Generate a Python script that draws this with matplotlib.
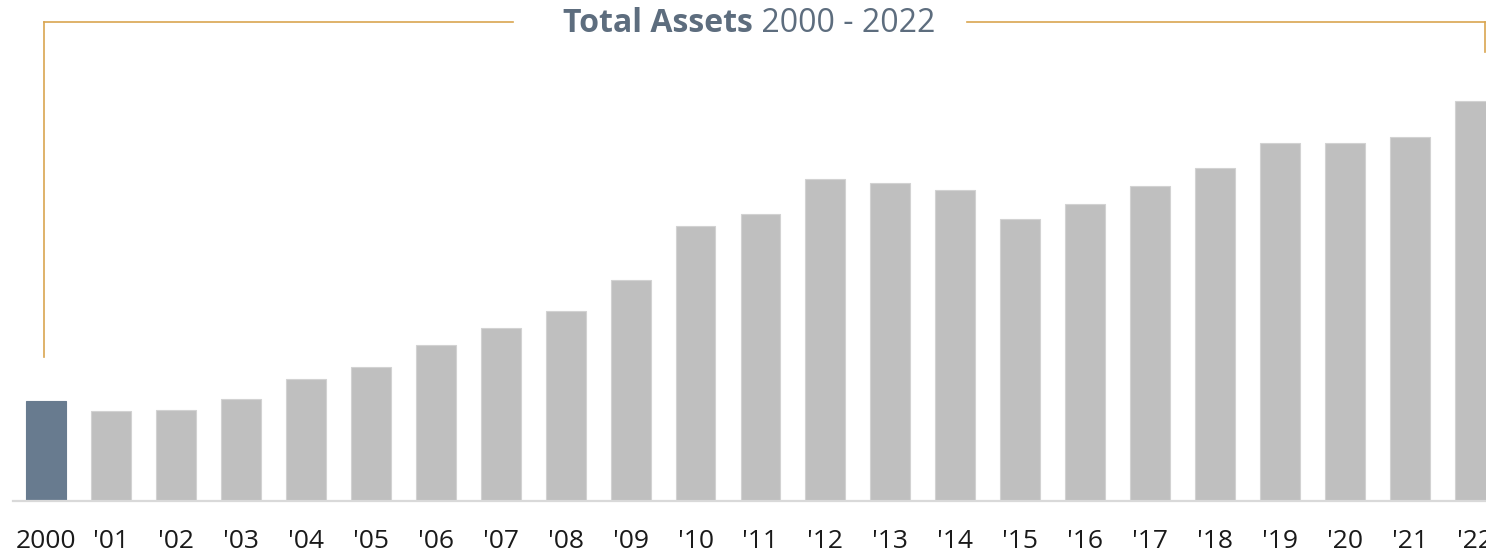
import matplotlib
matplotlib.use("Agg")
import matplotlib.pyplot as plt
from matplotlib.lines import Line2D

# ---- data ----
years = ["2000", "'01", "'02", "'03", "'04", "'05", "'06", "'07", "'08", "'09", "'10",
         "'11", "'12", "'13", "'14", "'15", "'16", "'17", "'18", "'19", "'20", "'21", "'22"]
values = [100, 90, 91, 102, 122, 134, 156, 173, 190, 221, 275,
          287, 322, 318, 311, 282, 297, 315, 333, 358, 358, 364, 400]
title_bold = "Total Assets"
title_rest = " 2000 - 2022"

W, H = 1486, 556
DPI = 100
plt.rcParams['font.family'] = ['Open Sans', 'DejaVu Sans']

fig = plt.figure(figsize=(W / DPI, H / DPI), dpi=DPI)
fig.patch.set_facecolor('white')

# axes in pixel placement
ax_left, ax_right, ax_bottom_from_top = 13, 1486, 501
ax = fig.add_axes([ax_left / W, (H - ax_bottom_from_top) / H,
                   (ax_right - ax_left) / W, ax_bottom_from_top / H])

x = list(range(len(years)))
colors = ['#687b8f'] + ['#bfbfbf'] * (len(years) - 1)
ax.bar(x, values, width=0.615, color=colors, edgecolor=['#687b8f'] + ['#d2d2d2'] * (len(years) - 1),
       linewidth=0.8, zorder=2)

ax.set_xlim(-0.508, 22.17)
ax.set_ylim(0, 501)
for s in ['top', 'right', 'left']:
    ax.spines[s].set_visible(False)
ax.spines['bottom'].set_color('#d9d9d9')
ax.spines['bottom'].set_linewidth(1.6)
ax.set_yticks([])
ax.set_xticks(x)
ax.set_xticklabels(years, fontsize=19, color='#1a1a1a')
ax.tick_params(axis='x', length=0, pad=20)
ax.set_facecolor('none')

# ---- title ----
ty = (H - 31.7) / H
t1 = fig.text(563 / W, ty, title_bold, fontsize=23, fontweight='bold', color='#5d6d7e',
              ha='left', va='baseline')
fig.canvas.draw()
bb = t1.get_window_extent()
fig.text(bb.x1 / W, ty, title_rest, fontsize=23, color='#5d6d7e', ha='left', va='baseline')

# ---- gold bracket ----
gold = '#d9a550'
ly = (H - 22) / H
fig.add_artist(Line2D([44 / W, 44 / W], [(H - 357) / H, ly], color=gold, lw=1.2))
fig.add_artist(Line2D([44 / W, 513 / W], [ly, ly], color=gold, lw=1.2))
fig.add_artist(Line2D([967 / W, 1485 / W], [ly, ly], color=gold, lw=1.2))
fig.add_artist(Line2D([1485 / W, 1485 / W], [ly, (H - 52) / H], color=gold, lw=1.2))

fig.savefig("out.png", dpi=DPI, facecolor='white')
